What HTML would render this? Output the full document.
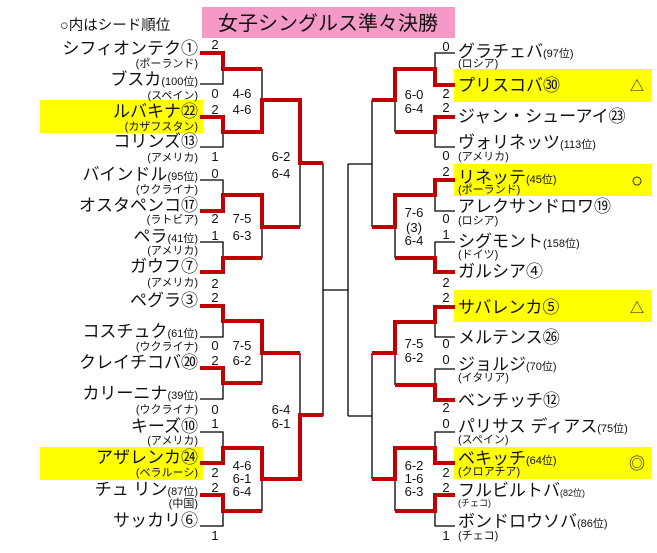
<!DOCTYPE html>
<html><head><meta charset="utf-8"><style>
html,body{margin:0;padding:0;background:#fff;}
svg{display:block;}
text{font-family:"Liberation Sans","Noto Sans CJK JP",sans-serif;fill:#111;}
.n{font-size:17px;}
.s{font-size:11px;}
.c{font-size:11px;}
.sc{font-size:13px;fill:#555;}
</style></head><body>
<svg width="657" height="553" viewBox="0 0 657 553" xmlns="http://www.w3.org/2000/svg">
<rect x="202" y="7" width="253" height="31" fill="#f59ac6"/>
<rect x="40" y="100" width="163" height="33" fill="#ffff00"/>
<rect x="40" y="447" width="163" height="33" fill="#ffff00"/>
<rect x="454" y="69" width="198" height="33" fill="#ffff00"/>
<rect x="454" y="164" width="198" height="32" fill="#ffff00"/>
<rect x="454" y="290" width="198" height="32" fill="#ffff00"/>
<rect x="454" y="447" width="198" height="32" fill="#ffff00"/>

<text x="328" y="30" text-anchor="middle" style="font-size:20px">女子シングルス準々決勝</text>
<text x="60" y="30" style="font-size:14.5px">○内はシード順位</text>

<g stroke="#000" stroke-width="1.3" fill="none">
<path d="M200 84H223V69"/>
<path d="M200 147H223V132"/>
<path d="M200 180H223V195"/>
<path d="M200 242H223V258"/>
<path d="M200 337H223V321"/>
<path d="M200 399H223V383"/>
<path d="M200 432H223V448"/>
<path d="M200 526H223V511"/>
<path d="M262 69V100"/>
<path d="M262 227V258"/>
<path d="M262 353V383"/>
<path d="M262 479V511"/>
<path d="M300 163V227"/>
<path d="M300 353V415"/>
<path d="M323 163V416"/>
<path d="M323 290H348"/>
<path d="M348 164V416"/>
<path d="M348 164H372"/>
<path d="M348 416H372"/>
<path d="M372 100V227"/>
<path d="M372 353V479"/>
<path d="M455 53H435V69"/>
<path d="M455 147H435V132"/>
<path d="M455 211H435V195"/>
<path d="M455 242H435V258"/>
<path d="M455 337H435V322"/>
<path d="M455 369H435V385"/>
<path d="M455 432H435V448"/>
<path d="M455 526H435V511"/>
<path d="M395 100V132"/>
<path d="M395 227V258"/>
<path d="M395 353V385"/>
<path d="M395 479V511"/>
</g>
<g stroke="#c00000" stroke-width="4" fill="none" stroke-linejoin="miter">
<path d="M200 53H223V69H262"/>
<path d="M200 117H223V132H262V100H300V163H323"/>
<path d="M200 211H223V195H262V227H300"/>
<path d="M200 272H223V258H262"/>
<path d="M200 306H223V321H262V353H300"/>
<path d="M200 368H223V383H262"/>
<path d="M200 463H223V448H262V479H300V415H323"/>
<path d="M200 495H223V511H262"/>
<path d="M455 85H435V69H395V100H372"/>
<path d="M455 117H435V132H395"/>
<path d="M455 180H435V195H395V227H372"/>
<path d="M455 272H435V258H395"/>
<path d="M455 307H435V322H395V353H372"/>
<path d="M455 400H435V385H395"/>
<path d="M455 463H435V448H395V479H372"/>
<path d="M455 495H435V511H395"/>
</g>

<g text-anchor="end">
<text class="n" x="198" y="54">シフィオンテク①</text>
<text class="c" x="198" y="67">(ポーランド)</text>
<text x="198" y="85"><tspan class="n">ブスカ</tspan><tspan class="s">(100位)</tspan></text>
<text class="c" x="198" y="99">(スペイン)</text>
<text class="n" x="198" y="117">ルバキナ㉒</text>
<text class="c" x="198" y="130">(カザフスタン)</text>
<text class="n" x="198" y="147">コリンズ⑬</text>
<text class="c" x="198" y="161">(アメリカ)</text>
<text x="198" y="180"><tspan class="n">バインドル</tspan><tspan class="s">(95位)</tspan></text>
<text class="c" x="198" y="193">(ウクライナ)</text>
<text class="n" x="198" y="211">オスタペンコ⑰</text>
<text class="c" x="198" y="223">(ラトビア)</text>
<text x="198" y="242"><tspan class="n">ペラ</tspan><tspan class="s">(41位)</tspan></text>
<text class="c" x="198" y="254">(アメリカ)</text>
<text class="n" x="198" y="272">ガウフ⑦</text>
<text class="c" x="198" y="286">(アメリカ)</text>
<text class="n" x="198" y="306">ペグラ③</text>
<text x="198" y="337"><tspan class="n">コスチュク</tspan><tspan class="s">(61位)</tspan></text>
<text class="c" x="198" y="350">(ウクライナ)</text>
<text class="n" x="198" y="368">クレイチコバ⑳</text>
<text x="198" y="399"><tspan class="n">カリーニナ</tspan><tspan class="s">(39位)</tspan></text>
<text class="c" x="198" y="413">(ウクライナ)</text>
<text class="n" x="198" y="432">キーズ⑩</text>
<text class="c" x="198" y="444">(アメリカ)</text>
<text class="n" x="198" y="463">アザレンカ㉔</text>
<text class="c" x="198" y="476">(ベラルーシ)</text>
<text x="198" y="495"><tspan class="n">チュ リン</tspan><tspan class="s">(87位)</tspan></text>
<text class="c" x="198" y="507">(中国)</text>
<text class="n" x="198" y="526">サッカリ⑥</text>
</g>

<g>
<text x="458" y="57"><tspan class="n">グラチェバ</tspan><tspan class="s">(97位)</tspan></text>
<text class="c" x="458" y="67">(ロシア)</text>
<text class="n" x="458" y="91">プリスコバ㉚</text>
<text class="n" x="458" y="122">ジャン・シューアイ㉓</text>
<text x="458" y="148"><tspan class="n">ヴォリネッツ</tspan><tspan class="s">(113位)</tspan></text>
<text class="c" x="458" y="160">(アメリカ)</text>
<text x="458" y="183"><tspan class="n">リネッテ</tspan><tspan class="s">(45位)</tspan></text>
<text class="c" x="458" y="193">(ポーランド)</text>
<text class="n" x="458" y="212">アレクサンドロワ⑲</text>
<text class="c" x="458" y="224">(ロシア)</text>
<text x="458" y="247"><tspan class="n">シグモント</tspan><tspan class="s">(158位)</tspan></text>
<text class="c" x="458" y="258">(ドイツ)</text>
<text class="n" x="458" y="277">ガルシア④</text>
<text class="n" x="458" y="313">サバレンカ⑤</text>
<text class="n" x="458" y="343">メルテンス㉖</text>
<text x="458" y="370"><tspan class="n">ジョルジ</tspan><tspan class="s">(70位)</tspan></text>
<text class="c" x="458" y="381">(イタリア)</text>
<text class="n" x="458" y="406">ベンチッチ⑫</text>
<text x="458" y="432"><tspan class="n">パリサス ディアス</tspan><tspan class="s">(75位)</tspan></text>
<text class="c" x="458" y="443">(スペイン)</text>
<text x="458" y="464"><tspan class="n">ベキッチ</tspan><tspan class="s">(64位)</tspan></text>
<text class="c" x="458" y="475">(クロアチア)</text>
<text x="458" y="496"><tspan class="n">フルビルトバ</tspan><tspan class="s" style="font-size:9px">(82位)</tspan></text>
<text class="c" x="458" y="506" style="font-size:9px">(チェコ)</text>
<text x="458" y="527"><tspan class="n">ボンドロウソバ</tspan><tspan class="s">(86位)</tspan></text>
<text class="c" x="458" y="539">(チェコ)</text>
</g>

<g text-anchor="middle">
<text x="637" y="91" style="font-size:14px">△</text>
<text x="637" y="187" style="font-size:20px">○</text>
<text x="637" y="313" style="font-size:14px">△</text>
<text x="637" y="469" style="font-size:16px">◎</text>
</g>

<g class="sc" text-anchor="middle">
<text x="215" y="49">2</text><text x="215" y="98">0</text>
<text x="215" y="114">2</text><text x="215" y="161">1</text>
<text x="215" y="178">0</text><text x="215" y="223">2</text>
<text x="215" y="240">1</text><text x="215" y="288">2</text>
<text x="215" y="302">2</text><text x="215" y="350">0</text>
<text x="215" y="365">2</text><text x="215" y="414">0</text>
<text x="215" y="428">1</text><text x="215" y="477">2</text>
<text x="215" y="492">2</text><text x="215" y="540">1</text>
<text x="242" y="98">4-6</text><text x="242" y="114">4-6</text>
<text x="242" y="223">7-5</text><text x="242" y="240">6-3</text>
<text x="242" y="350">7-5</text><text x="242" y="365">6-2</text>
<text x="242" y="470">4-6</text><text x="242" y="483">6-1</text><text x="242" y="496">6-4</text>
<text x="281" y="161">6-2</text><text x="281" y="178">6-4</text>
<text x="281" y="414">6-4</text><text x="281" y="428">6-1</text>
<text x="446" y="51">0</text><text x="446" y="98">2</text>
<text x="446" y="112">2</text><text x="446" y="160">0</text>
<text x="446" y="176">2</text><text x="446" y="223">0</text>
<text x="446" y="239">1</text><text x="446" y="287">2</text>
<text x="446" y="302">2</text><text x="446" y="348">0</text>
<text x="446" y="364">0</text><text x="446" y="412">2</text>
<text x="446" y="428">0</text><text x="446" y="477">2</text>
<text x="446" y="492">2</text><text x="446" y="540">1</text>
<text x="414" y="99">6-0</text><text x="414" y="113">6-4</text>
<text x="414" y="217">7-6</text><text x="414" y="232">(3)</text><text x="414" y="245">6-4</text>
<text x="414" y="348">7-5</text><text x="414" y="362">6-2</text>
<text x="414" y="470">6-2</text><text x="414" y="483">1-6</text><text x="414" y="496">6-3</text>
</g>
</svg>
</body></html>
